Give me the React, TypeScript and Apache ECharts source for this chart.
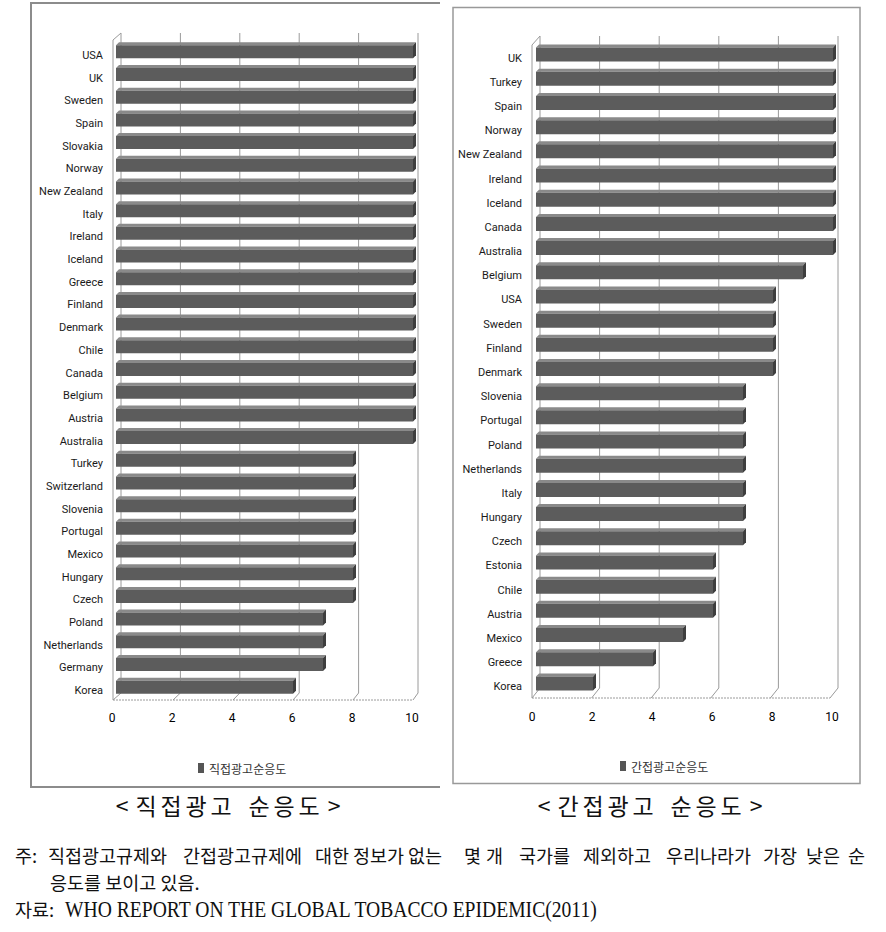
import React, { useEffect, useRef } from 'react';
import * as echarts from 'echarts';

// ---------------- data ----------------
const LEFT_COUNTRIES = [
  'USA', 'UK', 'Sweden', 'Spain', 'Slovakia', 'Norway', 'New Zealand', 'Italy', 'Ireland',
  'Iceland', 'Greece', 'Finland', 'Denmark', 'Chile', 'Canada', 'Belgium', 'Austria', 'Australia',
  'Turkey', 'Switzerland', 'Slovenia', 'Portugal', 'Mexico', 'Hungary', 'Czech',
  'Poland', 'Netherlands', 'Germany', 'Korea',
];
const LEFT_VALUES = [
  10, 10, 10, 10, 10, 10, 10, 10, 10,
  10, 10, 10, 10, 10, 10, 10, 10, 10,
  8, 8, 8, 8, 8, 8, 8,
  7, 7, 7, 6,
];
const RIGHT_COUNTRIES = [
  'UK', 'Turkey', 'Spain', 'Norway', 'New Zealand', 'Ireland', 'Iceland', 'Canada', 'Australia',
  'Belgium', 'USA', 'Sweden', 'Finland', 'Denmark',
  'Slovenia', 'Portugal', 'Poland', 'Netherlands', 'Italy', 'Hungary', 'Czech',
  'Estonia', 'Chile', 'Austria', 'Mexico', 'Greece', 'Korea',
];
const RIGHT_VALUES = [
  10, 10, 10, 10, 10, 10, 10, 10, 10,
  9, 8, 8, 8, 8,
  7, 7, 7, 7, 7, 7, 7,
  6, 6, 6, 5, 4, 2,
];
const X_TICKS = [0, 2, 4, 6, 8, 10];
const LEFT_SERIES = '직접광고순응도';
const RIGHT_SERIES = '간접광고순응도';
const LEFT_CAPTION = '<직접광고 순응도>';
const RIGHT_CAPTION = '<간접광고 순응도>';
const NOTE_WORDS = [
  '주:', '직접광고규제와', '간접광고규제에', '대한', '정보가', '없는', '몇', '개',
  '국가를', '제외하고', '우리나라가', '가장', '낮은', '순',
];
const NOTE_LINE2 = '응도를 보이고 있음.';
const SOURCE_LABEL = '자료:';
const SOURCE_TEXT = 'WHO REPORT ON THE GLOBAL TOBACCO EPIDEMIC(2011)';

// ---------------- layout / style ----------------
const NOTE_WORD_X = [15, 48, 183, 315, 353, 408, 464, 486, 519, 583, 666, 763, 806, 848];
const CAPTION_CHAR_X = [122, 146, 171, 196, 221, 240, 259, 284, 309, 334];
const CAPTION_SHIFT = 422;

const LABEL_FONT = "Roboto, sans-serif";
const KR_FONT = "'Noto Sans CJK KR', sans-serif";
const GRID_COLOR = '#9a9a9a';
const NOTE_SIZE = 18.5;

interface ChartCfg {
  left: number; width: number; top: number; height: number;
  barH: number; barShift: number;
  backTop: number; backBottom: number; frontTop: number; frontBottom: number;
  backOff: (t: number) => number; frontOff: (t: number) => number;
}

const LCFG: ChartCfg = {
  left: 116, width: 300, top: 44, height: 658,
  barH: 16, barShift: 5,
  backTop: 33, backBottom: 693, frontTop: 40, frontBottom: 700,
  backOff: (t) => 5 - 0.3 * t, frontOff: () => -3,
};
const RCFG: ChartCfg = {
  left: 536, width: 300, top: 46, height: 653,
  barH: 17, barShift: 5,
  backTop: 36, backBottom: 688, frontTop: 45, frontBottom: 698,
  backOff: (t) => 4 - 0.2 * t, frontOff: (t) => -4 - 0.2 * t,
};

function barRender(cfg: ChartCfg) {
  return (params: any, api: any) => {
    const v = api.value(0);
    const idx = api.value(1);
    const s = api.coord([0, idx]);
    const e = api.coord([v, idx]);
    const cy = s[1] - cfg.barShift;
    const top = cy - cfg.barH / 2;
    const bot = cy + cfg.barH / 2;
    const d = 3;
    const x0 = s[0];
    const x1 = e[0];
    return {
      type: 'group',
      children: [
        {
          type: 'polygon',
          shape: { points: [[x0, top + d], [x0 + d, top], [x1, top], [x1 - d, top + d]] },
          style: { fill: '#8a8a8a' },
        },
        {
          type: 'rect',
          shape: { x: x0, y: top + d, width: x1 - x0 - d, height: cfg.barH - d },
          style: { fill: '#5c5c5c' },
        },
        {
          type: 'polygon',
          shape: { points: [[x1 - d, top + d], [x1, top], [x1, bot - d], [x1 - d, bot]] },
          style: { fill: '#3e3e3e' },
        },
      ],
    };
  };
}

function frameRender(cfg: ChartCfg) {
  return (params: any, api: any) => {
    const t = api.value(0);
    const p = api.coord([t, 0]);
    const bx = p[0] + cfg.backOff(t);
    const fx = p[0] + cfg.frontOff(t);
    const ls = { stroke: GRID_COLOR, lineWidth: 1 };
    const children: any[] = [
      { type: 'line', shape: { x1: bx, y1: cfg.backTop, x2: bx, y2: cfg.backBottom }, style: ls },
      { type: 'line', shape: { x1: bx, y1: cfg.backBottom, x2: fx, y2: cfg.frontBottom }, style: ls },
    ];
    if (t === X_TICKS[0]) {
      const tEnd = X_TICKS[X_TICKS.length - 1];
      const pe = api.coord([tEnd, 0]);
      const fxe = pe[0] + cfg.frontOff(tEnd);
      children.push({
        type: 'line',
        shape: { x1: fx, y1: cfg.frontBottom, x2: fxe, y2: cfg.frontBottom },
        style: { stroke: GRID_COLOR, lineWidth: 1, lineDash: [2, 1] },
      });
      children.push({ type: 'line', shape: { x1: fx, y1: cfg.frontTop, x2: fx, y2: cfg.frontBottom }, style: ls });
      children.push({ type: 'line', shape: { x1: fx, y1: cfg.frontTop, x2: bx, y2: cfg.backTop }, style: ls });
    }
    return { type: 'group', children };
  };
}

function txt(text: string, x: number, y: number, fontSize: number, fontFamily: string, align = 'left', extra: any = {}) {
  return {
    type: 'text',
    x,
    y,
    ...extra,
    style: {
      text,
      fontSize,
      fontFamily,
      fill: '#111',
      align,
      verticalAlign: 'middle',
      textAlign: align,
      textVerticalAlign: 'middle',
    },
  };
}

function captionChars(caption: string, shift: number, y: number) {
  return caption.split('').map((c, i) =>
    c === ' ' ? null : txt(c, CAPTION_CHAR_X[i] + shift, y, 23, KR_FONT, 'center')
  ).filter(Boolean);
}

export default function App() {
  const ref = useRef<HTMLDivElement>(null);

  useEffect(() => {
    if (!ref.current) return;
    const chart = echarts.init(ref.current, undefined, { renderer: 'svg' });

    const xAxisBase = (gridIndex: number, margin: number) => ({
      gridIndex,
      type: 'value',
      min: 0,
      max: 10,
      interval: 2,
      splitLine: { show: false },
      axisLine: { show: false },
      axisTick: { show: false },
      axisLabel: { margin, fontSize: 12, color: '#000', fontFamily: 'Roboto, sans-serif', padding: [0, 8, 0, 0] },
    });
    const yAxisBase = (gridIndex: number, data: string[], margin: number) => ({
      gridIndex,
      type: 'category',
      inverse: true,
      data,
      axisLine: { show: false },
      axisTick: { show: false },
      splitLine: { show: false },
      axisLabel: { margin, fontSize: 11, fontWeight: 'normal', color: '#1a1a1a', fontFamily: LABEL_FONT, interval: 0 },
    });

    const graphics: any[] = [
      {
        type: 'polyline',
        shape: { points: [[440, 3], [31, 3], [31, 787], [440, 787]] },
        style: { stroke: '#8c8c8c', lineWidth: 2, fill: 'none' },
      },
      {
        type: 'rect',
        shape: { x: 453, y: 7.5, width: 407, height: 776 },
        style: { stroke: '#999', lineWidth: 1.5, fill: 'none' },
      },
      ...captionChars(LEFT_CAPTION, 0, 805),
      ...captionChars(RIGHT_CAPTION, CAPTION_SHIFT, 805),
      ...NOTE_WORDS.map((w, i) => txt(w, NOTE_WORD_X[i], 855, NOTE_SIZE, KR_FONT)),
      txt(NOTE_LINE2, 50, 882, NOTE_SIZE, KR_FONT),
      txt(SOURCE_LABEL, 15, 909, NOTE_SIZE, KR_FONT),
      txt(SOURCE_TEXT, 65, 909, 23, "'Liberation Serif', serif", 'left', { scaleX: 0.853 }),
    ];

    chart.setOption({
      animation: false,
      backgroundColor: '#fff',
      grid: [
        { left: LCFG.left, top: LCFG.top, width: LCFG.width, height: LCFG.height, containLabel: false },
        { left: RCFG.left, top: RCFG.top, width: RCFG.width, height: RCFG.height, containLabel: false },
      ],
      xAxis: [xAxisBase(0, 10), xAxisBase(1, 12)],
      yAxis: [yAxisBase(0, LEFT_COUNTRIES, 13), yAxisBase(1, RIGHT_COUNTRIES, 14)],
      legend: [
        {
          data: [LEFT_SERIES], left: 193, top: 757, icon: 'rect', itemWidth: 6, itemHeight: 10, itemGap: 4,
          textStyle: { fontSize: 12, color: '#333', fontFamily: KR_FONT },
          selectedMode: false,
        },
        {
          data: [RIGHT_SERIES], left: 615, top: 755, icon: 'rect', itemWidth: 6, itemHeight: 10, itemGap: 4,
          textStyle: { fontSize: 12, color: '#333', fontFamily: KR_FONT },
          selectedMode: false,
        },
      ],
      series: [
        {
          name: 'frameL', type: 'custom', xAxisIndex: 0, yAxisIndex: 0, silent: true, z: 1,
          data: X_TICKS.map((t) => [t, 0]), encode: { x: 0, y: 1 }, renderItem: frameRender(LCFG),
        },
        {
          name: LEFT_SERIES, type: 'custom', xAxisIndex: 0, yAxisIndex: 0, z: 3,
          itemStyle: { color: '#555' },
          data: LEFT_VALUES.map((v, i) => [v, i]), encode: { x: 0, y: 1 }, renderItem: barRender(LCFG),
        },
        {
          name: 'frameR', type: 'custom', xAxisIndex: 1, yAxisIndex: 1, silent: true, z: 1,
          data: X_TICKS.map((t) => [t, 0]), encode: { x: 0, y: 1 }, renderItem: frameRender(RCFG),
        },
        {
          name: RIGHT_SERIES, type: 'custom', xAxisIndex: 1, yAxisIndex: 1, z: 3,
          itemStyle: { color: '#555' },
          data: RIGHT_VALUES.map((v, i) => [v, i]), encode: { x: 0, y: 1 }, renderItem: barRender(RCFG),
        },
      ],
      graphic: graphics,
    });

    return () => chart.dispose();
  }, []);

  return (
    <div
      ref={ref}
      style={{ position: 'absolute', left: 0, top: 0, width: 886, height: 932, background: '#fff' }}
    />
  );
}
